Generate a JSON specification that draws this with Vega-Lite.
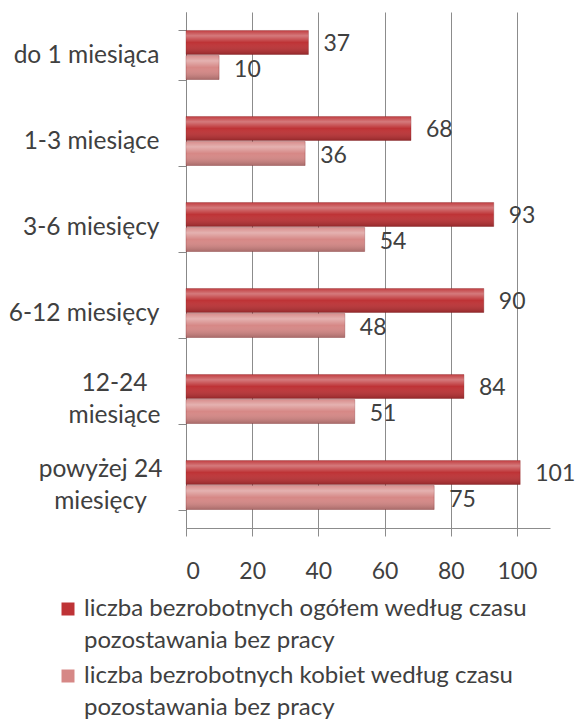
{
  "$schema": "https://vega.github.io/schema/vega-lite/v6.json",
  "autosize": "none",
  "width": 364,
  "height": 516,
  "padding": {"left": 186, "top": 12, "right": 29, "bottom": 192},
  "background": "white",
  "data": {
    "values": [
      {"kat": "do 1 miesiąca", "seria": "liczba bezrobotnych ogółem według czasu pozostawania bez pracy", "wartosc": 37},
      {"kat": "do 1 miesiąca", "seria": "liczba bezrobotnych kobiet według czasu pozostawania bez pracy", "wartosc": 10},
      {"kat": "1-3 miesiące", "seria": "liczba bezrobotnych ogółem według czasu pozostawania bez pracy", "wartosc": 68},
      {"kat": "1-3 miesiące", "seria": "liczba bezrobotnych kobiet według czasu pozostawania bez pracy", "wartosc": 36},
      {"kat": "3-6 miesięcy", "seria": "liczba bezrobotnych ogółem według czasu pozostawania bez pracy", "wartosc": 93},
      {"kat": "3-6 miesięcy", "seria": "liczba bezrobotnych kobiet według czasu pozostawania bez pracy", "wartosc": 54},
      {"kat": "6-12 miesięcy", "seria": "liczba bezrobotnych ogółem według czasu pozostawania bez pracy", "wartosc": 90},
      {"kat": "6-12 miesięcy", "seria": "liczba bezrobotnych kobiet według czasu pozostawania bez pracy", "wartosc": 48},
      {"kat": "12-24 miesiące", "seria": "liczba bezrobotnych ogółem według czasu pozostawania bez pracy", "wartosc": 84},
      {"kat": "12-24 miesiące", "seria": "liczba bezrobotnych kobiet według czasu pozostawania bez pracy", "wartosc": 51},
      {"kat": "powyżej 24 miesięcy", "seria": "liczba bezrobotnych ogółem według czasu pozostawania bez pracy", "wartosc": 101},
      {"kat": "powyżej 24 miesięcy", "seria": "liczba bezrobotnych kobiet według czasu pozostawania bez pracy", "wartosc": 75}
    ]
  },
  "encoding": {
    "y": {
      "field": "kat",
      "type": "nominal",
      "sort": null,
      "scale": {"paddingInner": 0.43, "paddingOuter": 0.215},
      "axis": {
        "title": null,
        "tickBand": "extent",
        "tickSize": 8,
        "tickColor": "#888888",
        "domainColor": "#888888",
        "labelPadding": {"condition": [{"test": "datum.value == '12-24 miesiące'", "value": 64}, {"test": "datum.value == 'powyżej 24 miesięcy'", "value": 78}], "value": 19},
        "labelAlign": {"condition": {"test": "datum.value == '12-24 miesiące' || datum.value == 'powyżej 24 miesięcy'", "value": "center"}, "value": "right"},
        "labelOffset": {"condition": {"test": "datum.value == '12-24 miesiące' || datum.value == 'powyżej 24 miesięcy'", "value": -16}, "value": 0},
        "labelFontSize": 24.5,
        "labelLineHeight": 32,
        "labelColor": "#404040",
        "labelFont": "Lato",
        "labelLimit": 220,
        "labelExpr": "datum.value == '12-24 miesiące' ? ['12-24', 'miesiące'] : datum.value == 'powyżej 24 miesięcy' ? ['powyżej 24', 'miesięcy'] : datum.value"
      }
    },
    "yOffset": {
      "field": "seria",
      "type": "nominal",
      "sort": null,
      "scale": {"paddingInner": 0.04}
    }
  },
  "layer": [
    {
      "mark": {"type": "bar", "stroke": "#7a1518", "strokeWidth": 0.6, "strokeOpacity": 0.5},
      "encoding": {
        "x": {
          "field": "wartosc",
          "type": "quantitative",
          "scale": {"domain": [0, 110], "nice": false},
          "axis": {
            "title": null,
            "values": [0, 20, 40, 60, 80, 100],
            "grid": true,
            "gridColor": "#8c8c8c",
            "gridWidth": 1,
            "tickSize": 8,
            "tickColor": "#8c8c8c",
            "domainColor": "#8c8c8c",
            "labelFontSize": 23,
            "labelColor": "#404040",
            "labelFont": "Lato",
            "labelPadding": 24
          }
        },
        "color": {
          "field": "seria",
          "type": "nominal",
          "sort": null,
          "scale": {"range": ["#BE3336", "#D68886"]},
          "legend": {
            "title": null,
            "orient": "none",
            "legendX": -130,
            "legendY": 585,
            "padding": 0,
            "direction": "vertical",
            "symbolType": "square",
            "symbolSize": 169,
            "symbolStrokeWidth": 0,
            "labelFontSize": 24,
            "labelFont": "Lato",
            "labelColor": "#404040",
            "labelLimit": 600,
            "labelOffset": 4,
            "rowPadding": 11,
            "labelExpr": "[slice(datum.label, 0, indexof(datum.label, ' pozostawania')), 'pozostawania bez pracy']"
          }
        }
      }
    },
    {
      "mark": {
        "type": "bar",
        "color": {
          "gradient": "linear",
          "x1": 0, "y1": 0, "x2": 0, "y2": 1,
          "stops": [
            {"offset": 0, "color": "rgba(255,255,255,0.05)"},
            {"offset": 0.22, "color": "rgba(255,255,255,0.35)"},
            {"offset": 0.5, "color": "rgba(255,255,255,0.0)"},
            {"offset": 1, "color": "rgba(0,0,0,0.22)"}
          ]
        }
      },
      "encoding": {
        "x": {"field": "wartosc", "type": "quantitative"}
      }
    },
    {
      "mark": {"type": "text", "align": "left", "baseline": "middle", "dx": 15, "dy": 2, "fontSize": 23, "font": "Lato", "color": "#404040"},
      "encoding": {
        "x": {"field": "wartosc", "type": "quantitative"},
        "text": {"field": "wartosc", "type": "quantitative"}
      }
    }
  ],
  "config": {
    "view": {"stroke": null},
    "style": {"guide-label": {"lineHeight": 32}}
  }
}
